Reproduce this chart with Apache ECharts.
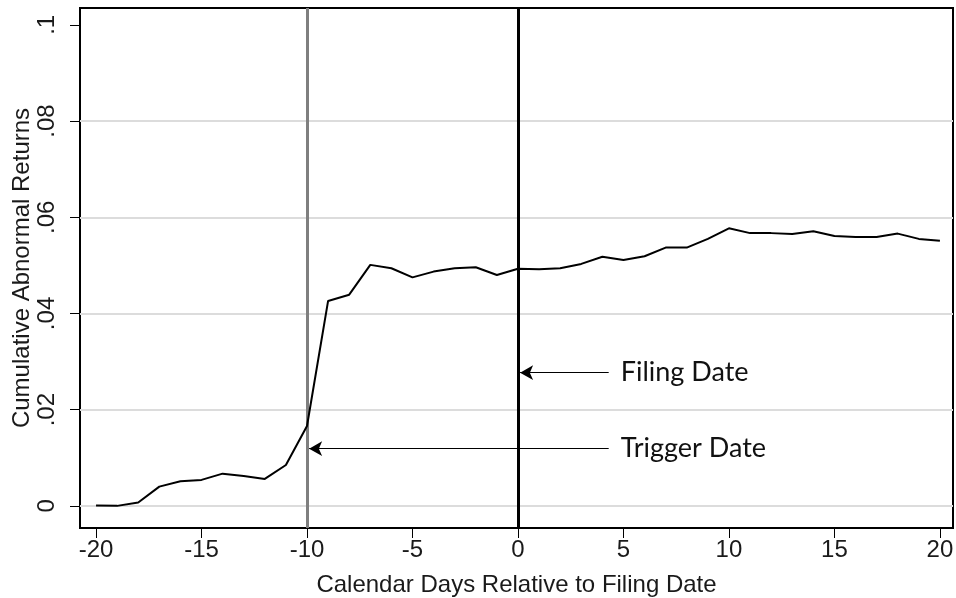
<!DOCTYPE html>
<html>
<head>
<meta charset="utf-8">
<script src="https://cdn.jsdelivr.net/npm/echarts@6/dist/echarts.min.js"></script>
<style>
  html, body { margin: 0; padding: 0; background: #fff; }
  #main { width: 956px; height: 598px; }
</style>
</head>
<body>
<div id="main"></div>
<script>
// days relative to filing date
var days = [];
for (var d = -20; d <= 20; d++) days.push(d);

// cumulative abnormal returns
var car = [
  0.0001, 0.0000, 0.0007, 0.0040, 0.0051, 0.0054, 0.0067, 0.0062, 0.0056, 0.0085,
  0.0166, 0.0426, 0.0439, 0.0501, 0.0494, 0.0475, 0.0487, 0.0494, 0.0496, 0.0480,
  0.0493, 0.0492, 0.0494, 0.0503, 0.0518, 0.0511, 0.0519, 0.0537, 0.0537, 0.0555,
  0.0577, 0.0567, 0.0567, 0.0565, 0.0571, 0.0561, 0.0559, 0.0559, 0.0566, 0.0555,
  0.0551
];

var xTicks = [-20, -15, -10, -5, 0, 5, 10, 15, 20];
var yTicks = [0, 0.02, 0.04, 0.06, 0.08, 0.1];
var yGrid = [0, 0.02, 0.04, 0.06, 0.08];

var triggerDay = -10;
var filingDay = 0;
// annotation arrows: [label, y value, arrow start x]
var notes = [
  ['Filing Date', 0.0277, 4.3],
  ['Trigger Date', 0.0119, 4.3]
];

var chart = echarts.init(document.getElementById('main'));

var pts = days.map(function (d, i) { return [d, car[i]]; });

function fmtY(v) {
  if (v === 0) return '0';
  return String(v).replace(/^0/, '');
}

var axisFont = { fontFamily: 'Liberation Sans, Arial, sans-serif', fontSize: 24, color: '#1a1a1a' };

var option = {
  animation: false,
  backgroundColor: '#fff',
  grid: {
    left: 80, right: 3, top: 8, bottom: 70,
    outerBoundsMode: 'none',
    containLabel: false,
    show: true, borderColor: '#000', borderWidth: 2, backgroundColor: '#fff'
  },
  xAxis: {
    type: 'value',
    min: -20.76, max: 20.62,
    name: 'Calendar Days Relative to Filing Date',
    nameLocation: 'middle',
    nameGap: 45,
    nameMoveOverlap: false,
    nameTextStyle: axisFont,
    axisLine: { show: true, onZero: false, lineStyle: { color: '#000', width: 2 } },
    axisTick: { show: true, length: 10, customValues: xTicks, lineStyle: { color: '#000', width: 1 } },
    axisLabel: Object.assign({ customValues: xTicks, margin: 10 }, axisFont),
    splitLine: { show: false }
  },
  yAxis: {
    type: 'value',
    min: -0.0046, max: 0.1035,
    name: 'Cumulative Abnormal Returns',
    nameLocation: 'middle',
    nameRotate: 90,
    nameGap: 46,
    nameMoveOverlap: false,
    nameTextStyle: axisFont,
    axisLine: { show: true, onZero: false, lineStyle: { color: '#000', width: 2 } },
    axisTick: { show: true, length: 10, customValues: yTicks, lineStyle: { color: '#000', width: 1 } },
    axisLabel: Object.assign({ customValues: yTicks, rotate: 90, margin: 21, formatter: fmtY }, axisFont),
    splitLine: { show: false }
  },
  series: [
    {
      type: 'line',
      data: pts,
      showSymbol: false,
      lineStyle: { color: '#000', width: 2 },
      z: 5,
      markLine: {
        silent: true,
        symbol: ['none', 'none'],
        label: { show: false },
        lineStyle: { color: '#dcdcdc', width: 2, type: 'solid' },
        data: yGrid.map(function (v) { return { yAxis: v }; }),
        z: 1
      }
    },
    {
      type: 'line',
      data: [],
      markLine: {
        silent: true,
        symbol: ['none', 'none'],
        label: { show: false },
        data: [
          { xAxis: triggerDay, lineStyle: { color: '#7f7f7f', width: 3, type: 'solid' } },
          { xAxis: filingDay, lineStyle: { color: '#000', width: 3, type: 'solid' } }
        ]
      },
      z: 4
    },
    {
      type: 'line',
      data: [],
      markLine: {
        silent: true,
        symbol: ['none', 'arrow'],
        symbolSize: [11, 13],
        label: { show: false },
        lineStyle: { color: '#000', width: 1, type: 'solid' },
        data: [
          [{ coord: [notes[0][2], notes[0][1]] }, { coord: [filingDay + 0.1, notes[0][1]] }],
          [{ coord: [notes[1][2], notes[1][1]] }, { coord: [triggerDay + 0.1, notes[1][1]] }]
        ]
      },
      z: 6
    }
  ]
};

chart.setOption(option);

var texts = notes.map(function (n) {
  var p = chart.convertToPixel({ gridIndex: 0 }, [n[2], n[1]]);
  return {
    type: 'text',
    x: p[0] + 12,
    y: p[1],
    style: {
      text: n[0],
      fontFamily: 'Lato, sans-serif',
      fontSize: 27,
      fill: '#111',
      verticalAlign: 'middle'
    },
    z: 10
  };
});
chart.setOption({ graphic: texts });
</script>
</body>
</html>
